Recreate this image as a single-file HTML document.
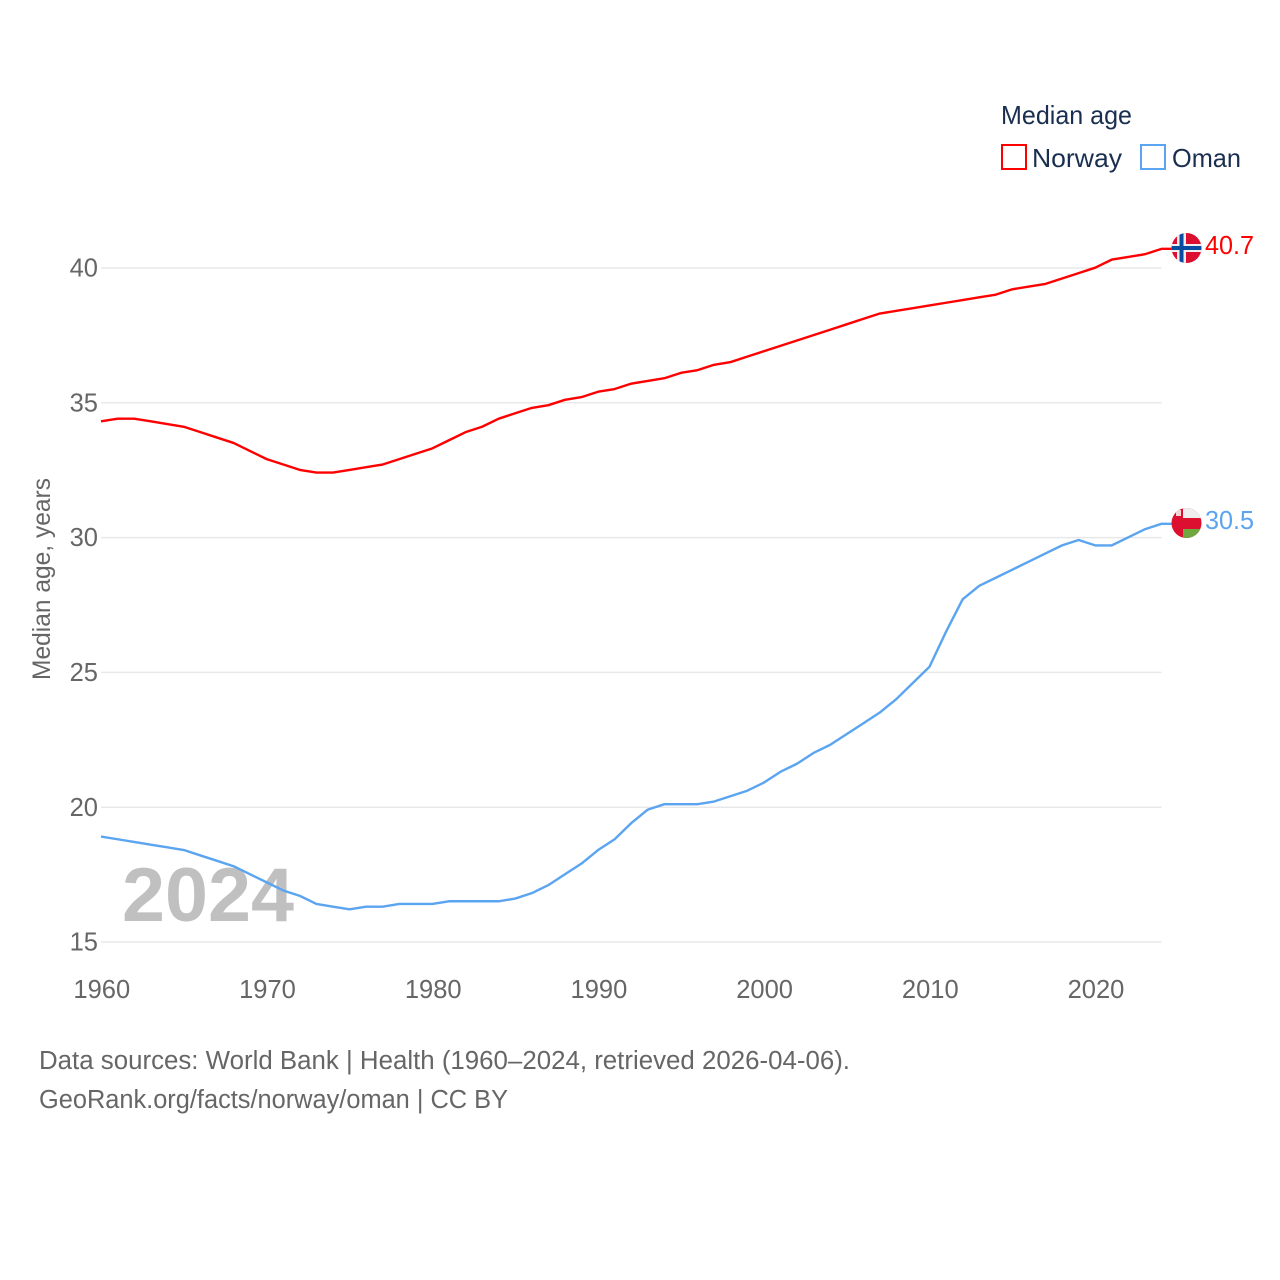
<!DOCTYPE html>
<html lang="en">
<head>
<meta charset="utf-8">
<title>Median age: Norway and Oman</title>
<style>
html,body{margin:0;padding:0;background:#fff;width:1280px;height:1280px;overflow:hidden}
svg{display:block;font-family:"Liberation Sans",sans-serif}
</style>
</head>
<body>
<svg id="chart" xmlns="http://www.w3.org/2000/svg" width="1280" height="1280" viewBox="0 0 1280 1280">
  <defs>
    <clipPath id="flag-clip-no"><circle cx="1186.5" cy="248" r="15"/></clipPath>
    <clipPath id="flag-clip-om"><circle cx="1186.5" cy="523" r="15"/></clipPath>
  </defs>
  <rect x="0" y="0" width="1280" height="1280" fill="#fff"/>
  <g id="grid"></g>
  <text x="122" y="921" font-size="76" font-weight="bold" fill="#c0c0c0" textLength="172" lengthAdjust="spacingAndGlyphs">2024</text>
  <g id="y-ticks"></g>
  <g id="x-ticks"></g>
  <text transform="translate(50,680) rotate(-90)" font-size="25" fill="#666" textLength="202" lengthAdjust="spacingAndGlyphs">Median age, years</text>
  <g id="series"></g>

  <g id="flag-norway" clip-path="url(#flag-clip-no)">
    <rect x="1171" y="233" width="31" height="30" fill="#dc0f30"/>
    <rect x="1177" y="233" width="9" height="30" fill="#eee"/>
    <rect x="1171" y="244" width="31" height="8" fill="#eee"/>
    <rect x="1179.5" y="233" width="4" height="30" fill="#0a4da0"/>
    <rect x="1171" y="246" width="31" height="4" fill="#0a4da0"/>
  </g>
  <text x="1205" y="254" font-size="25.5" fill="#ff0000" textLength="49" lengthAdjust="spacingAndGlyphs">40.7</text>

  <g id="flag-oman" clip-path="url(#flag-clip-om)">
    <rect x="1171" y="508" width="31" height="30" fill="#dc0f30"/>
    <rect x="1183" y="508" width="19" height="10" fill="#eee"/>
    <rect x="1183" y="529" width="19" height="9" fill="#6fa83f"/>
    <rect x="1176" y="510" width="5" height="6" fill="#f3d5d5"/>
  </g>
  <text x="1205" y="529" font-size="25.5" fill="#5ba4f0" textLength="49" lengthAdjust="spacingAndGlyphs">30.5</text>

  <g>
    <text x="1001" y="124" font-size="26" fill="#1a2f50" textLength="131" lengthAdjust="spacingAndGlyphs">Median age</text>
    <rect x="1002" y="145" width="24" height="24" fill="none" stroke="#ff0000" stroke-width="2"/>
    <text x="1032" y="167" font-size="26" fill="#1a2f50" textLength="90" lengthAdjust="spacingAndGlyphs">Norway</text>
    <rect x="1141" y="145" width="24" height="24" fill="none" stroke="#5ba4f0" stroke-width="2"/>
    <text x="1172" y="167" font-size="26" fill="#1a2f50" textLength="69" lengthAdjust="spacingAndGlyphs">Oman</text>
  </g>

  <text x="39" y="1069" font-size="25.5" fill="#666" textLength="811" lengthAdjust="spacingAndGlyphs">Data sources: World Bank | Health (1960–2024, retrieved 2026-04-06).</text>
  <text x="39" y="1108" font-size="25.5" fill="#666" textLength="469" lengthAdjust="spacingAndGlyphs">GeoRank.org/facts/norway/oman | CC BY</text>
</svg>
<script>
const startYear = 1960;
const norwayValues = [34.3,34.4,34.4,34.3,34.2,34.1,33.9,33.7,33.5,33.2,32.9,32.7,32.5,32.4,32.4,32.5,32.6,32.7,32.9,33.1,33.3,33.6,33.9,34.1,34.4,34.6,34.8,34.9,35.1,35.2,35.4,35.5,35.7,35.8,35.9,36.1,36.2,36.4,36.5,36.7,36.9,37.1,37.3,37.5,37.7,37.9,38.1,38.3,38.4,38.5,38.6,38.7,38.8,38.9,39.0,39.2,39.3,39.4,39.6,39.8,40.0,40.3,40.4,40.5,40.7];
const omanValues = [18.9,18.8,18.7,18.6,18.5,18.4,18.2,18.0,17.8,17.5,17.2,16.9,16.7,16.4,16.3,16.2,16.3,16.3,16.4,16.4,16.4,16.5,16.5,16.5,16.5,16.6,16.8,17.1,17.5,17.9,18.4,18.8,19.4,19.9,20.1,20.1,20.1,20.2,20.4,20.6,20.9,21.3,21.6,22.0,22.3,22.7,23.1,23.5,24.0,24.6,25.2,26.5,27.7,28.2,28.5,28.8,29.1,29.4,29.7,29.9,29.7,29.7,30.0,30.3,30.5];
const yTickLabels = [15,20,25,30,35,40];
const xTickLabels = [1960,1970,1980,1990,2000,2010,2020];

const NS = 'http://www.w3.org/2000/svg';
function xScale(year){ return 101 + (year - 1960) * 16.57; }
function yScale(v){ return 942 - (v - 15) * 26.96; }

const gridGroup = document.getElementById('grid');
const yGroup = document.getElementById('y-ticks');
const xGroup = document.getElementById('x-ticks');
const seriesGroup = document.getElementById('series');

yTickLabels.forEach(function(v){
  const line = document.createElementNS(NS,'line');
  
  
  line.setAttribute('x1', xScale(1960));
  line.setAttribute('x2', xScale(2024));
  line.setAttribute('y1', yScale(v));
  line.setAttribute('y2', yScale(v));
  line.setAttribute('stroke', '#e8e8e8');
  line.setAttribute('stroke-width', '1.5');
  gridGroup.appendChild(line);

  const t = document.createElementNS(NS,'text');
  
  
  t.setAttribute('x', 98);
  t.setAttribute('y', yScale(v) + 8.6);
  t.setAttribute('text-anchor', 'end');
  t.setAttribute('font-size', '25.5');
  t.setAttribute('fill', '#666');
  t.textContent = v;
  yGroup.appendChild(t);
});

xTickLabels.forEach(function(y){
  const t = document.createElementNS(NS,'text');
  
  
  t.setAttribute('x', xScale(y) + 0.8);
  t.setAttribute('y', 998);
  t.setAttribute('text-anchor', 'middle');
  t.setAttribute('font-size', '25.5');
  t.setAttribute('fill', '#666');
  t.textContent = y;
  xGroup.appendChild(t);
});

function drawSeries(values, color, name){
  const pts = values.map(function(v,i){
    return xScale(startYear + i).toFixed(2) + ',' + (yScale(v) - 0.3).toFixed(2);
  });
  pts.push('1172,' + (yScale(values[values.length - 1]) - 0.3).toFixed(2));
  const p = document.createElementNS(NS,'polyline');
  
  
  p.setAttribute('points', pts.join(' '));
  p.setAttribute('fill', 'none');
  p.setAttribute('stroke', color);
  p.setAttribute('stroke-width', '2.4');
  p.setAttribute('stroke-linejoin', 'round');
  seriesGroup.appendChild(p);
}
drawSeries(norwayValues, '#ff0000', 'norway-line');
drawSeries(omanValues, '#5ba4f0', 'oman-line');
</script>
</body>
</html>
